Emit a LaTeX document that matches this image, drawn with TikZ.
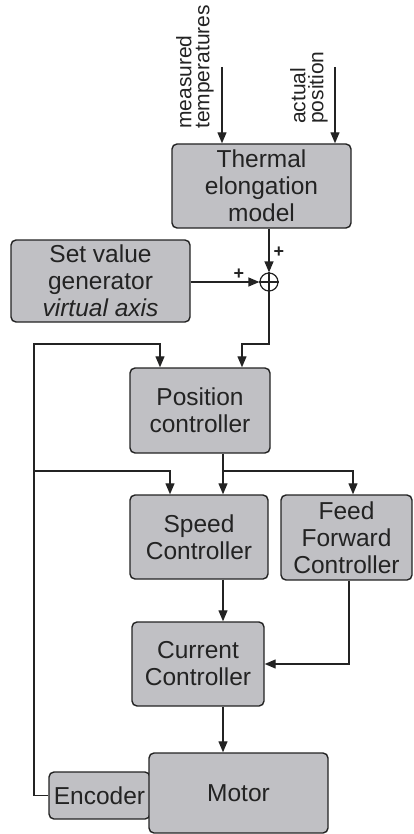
\documentclass[tikz,border=0pt]{standalone}
\usepackage{fontspec}
\setmainfont{Liberation Sans}
\usetikzlibrary{arrows.meta,calc}
\definecolor{boxgray}{RGB}{192,192,196}
\definecolor{inkgray}{RGB}{35,35,35}

\begin{document}
\begin{tikzpicture}[x=1pt,y=-1pt,
  blk/.style={draw=inkgray, line width=1.4pt, fill=boxgray, rounded corners=5pt,
    align=center, inner sep=0pt, text=inkgray,
    font=\fontsize{24.5}{27}\selectfont},
  wire/.style={draw=inkgray, line width=1.2pt},
  arr/.style={wire, -{Triangle[length=11pt,width=9pt]}},
  sidelabel/.style={rotate=90, anchor=south west, align=left, inner sep=0pt,
    text=inkgray, font=\fontsize{21}{18}\selectfont},
  sign/.style={inner sep=0pt, text=inkgray, font=\bfseries\fontsize{18}{18}\selectfont}]

\useasboundingbox (0,0) rectangle (414,834);

% blocks
\node[blk, minimum width=179pt, minimum height=84pt] (therm) at (261.5,186) {Thermal\\elongation\\model};
\node[blk, minimum width=179pt, minimum height=82pt] (setv) at (100.5,281) {Set value\\generator\\\textit{virtual axis}};
\node[blk, minimum width=140pt, minimum height=85pt] (pos) at (200,410.5) {Position\\controller};
\node[blk, minimum width=138pt, minimum height=84pt] (spd) at (199,537) {Speed\\Controller};
\node[blk, minimum width=131pt, minimum height=85pt] (ff) at (346.5,537.5) {Feed\\Forward\\Controller};
\node[blk, minimum width=132pt, minimum height=84pt] (cur) at (198,664) {Current\\Controller};
\node[blk, minimum width=101pt, minimum height=47pt] (enc) at (99.5,795.5) {Encoder};
\node[blk, minimum width=179pt, minimum height=80pt] (mot) at (238.5,793) {Motor};

% summing junction
\node[draw=inkgray, line width=1.2pt, circle, minimum size=18pt, inner sep=0pt, fill=white] (sum) at (269,282) {};
\draw[wire] (sum.north) -- (sum.south);
\draw[wire] (sum.west) -- (sum.east);
\node[sign] (plustop) at (279,252) {+};
\node[sign] (plusleft) at (239,274) {+};

% input labels
\node[sidelabel] (meas) at (214,129) {measured\\temperatures};
\node[sidelabel] (act) at (328,124) {actual\\position};

% helper coordinates
\coordinate (tin) at (222,67);
\coordinate (pin) at (335,67);
\coordinate (mainx) at (223,0);
\coordinate (ffx) at (353,0);
\coordinate (ffo) at (349,0);
\coordinate (br) at (223,471);
\coordinate (fb1) at (34,344);
\coordinate (fb2) at (34,471);
\coordinate (posin1) at (160,344);
\coordinate (posin2) at (242,344);
\coordinate (spdin1) at (170,471);

% signal flow
\draw[arr] (tin) -- (tin |- therm.north);
\draw[arr] (pin) -- (pin |- therm.north);
\draw[arr] (therm.south -| sum) -- (sum.north);
\draw[arr] (setv.east |- sum.west) -- (sum.west);
\draw[arr] (sum.south) |- (posin2) -- (posin2 |- pos.north);
\draw[arr] (pos.south -| mainx) -- (spd.north -| mainx);
\draw[arr] (br) -| (ff.north -| ffx);
\draw[arr] (spd.south -| mainx) -- (cur.north -| mainx);
\draw[arr] (ff.south -| ffo) |- (cur.east);
\draw[arr] (cur.south -| mainx) -- (mot.north -| mainx);

% encoder feedback
\draw[arr] (enc.west) -| (fb1) -- (posin1) -- (posin1 |- pos.north);
\draw[arr] (fb2) -- (spdin1) -- (spdin1 |- spd.north);

\end{tikzpicture}
\end{document}
